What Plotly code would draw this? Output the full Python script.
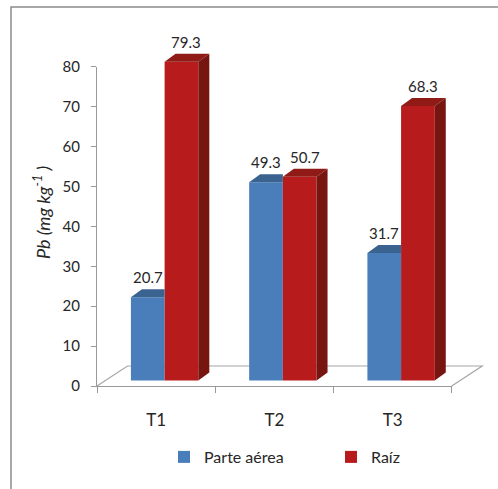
import plotly.graph_objects as go

# ---- data ----
categories = ["T1", "T2", "T3"]
parte_aerea = [20.7, 49.3, 31.7]
raiz = [79.3, 50.7, 68.3]
series_names = ["Parte aérea", "Raíz"]
y_ticks = [0, 10, 20, 30, 40, 50, 60, 70, 80]

# ---- geometry (pixels) ----
W, H = 498, 489
PLOT_L, PLOT_R = 97, 498
PLOT_T, PLOT_B = 30, 386
AXIS_RIGHT = 451.7          # end of the category axis (front floor edge)
AXIS_TOP = 66.7             # pixel height of the top value tick
UNIT_X = (AXIS_RIGHT - PLOT_L) / len(categories)

BAR_PX = 4.02               # px per unit on the plane where the bars stand
BAR_BASE = 380.5            # pixel row of value 0 on that plane
BAR_SHIFT_X = 8.5           # bars stand a little deeper than the axis plane
BAR_W = 0.285               # bar width in category units
DEPTH_X, DEPTH_Y = 11, 8    # extrusion of each bar (px)
FLOOR_DX, FLOOR_DY = 30.5, 20

BLUE, BLUE_TOP = "#4A7EBB", "#3B6390"
RED, RED_TOP, RED_SIDE = "#B71B1B", "#8F1A16", "#771611"
TEXT = "#262626"
FONT = "Lato"


def px_x(px):
    return (px - PLOT_L) / (PLOT_R - PLOT_L)


def px_y(py):
    return (PLOT_B - py) / (PLOT_B - PLOT_T)


x2_range = [-0.5 - BAR_SHIFT_X / UNIT_X,
            -0.5 + (PLOT_R - PLOT_L - BAR_SHIFT_X) / UNIT_X]
y2_range = [-(PLOT_B - BAR_BASE) / BAR_PX, (BAR_BASE - PLOT_T) / BAR_PX]
ddx = DEPTH_X / UNIT_X
ddy = DEPTH_Y / BAR_PX
idx = list(range(len(categories)))

fig = go.Figure()

# invisible anchor so the category axis knows its categories
fig.add_trace(go.Scatter(x=categories, y=[0] * len(categories), xaxis="x", yaxis="y",
                         mode="markers", marker=dict(opacity=0), showlegend=False,
                         hoverinfo="skip"))

# front faces of the bars
fig.add_trace(go.Bar(x=idx, y=parte_aerea, name=series_names[0], width=BAR_W, offset=-BAR_W,
                     marker=dict(color=BLUE, line=dict(width=0)), xaxis="x2", yaxis="y2",
                     customdata=categories, hovertemplate="%{customdata}: %{y}<extra>" + series_names[0] + "</extra>"))
fig.add_trace(go.Bar(x=idx, y=raiz, name=series_names[1], width=BAR_W, offset=0,
                     marker=dict(color=RED, line=dict(width=0)), xaxis="x2", yaxis="y2",
                     customdata=categories, hovertemplate="%{customdata}: %{y}<extra>" + series_names[1] + "</extra>"))


def face(xs, ys, color):
    fig.add_trace(go.Scatter(x=xs + [xs[0]], y=ys + [ys[0]], fill="toself", fillcolor=color,
                             mode="lines", line=dict(width=0, color=color), xaxis="x2", yaxis="y2",
                             showlegend=False, hoverinfo="skip"))


# extruded top and side faces
for i, (hb, hr) in enumerate(zip(parte_aerea, raiz)):
    x0, x1, x2 = i - BAR_W, i, i + BAR_W
    face([x0, x1, x1, x0 + ddx], [hb, hb, hb + ddy, hb + ddy], BLUE_TOP)
    face([x1, x2, x2 + ddx, x1 + ddx], [hr, hr, hr + ddy, hr + ddy], RED_TOP)
    face([x2, x2 + ddx, x2 + ddx, x2], [0, ddy, hr + ddy, hr], RED_SIDE)

# value labels
annotations = []
for i, (hb, hr) in enumerate(zip(parte_aerea, raiz)):
    for val, xc, xs in ((hb, i - BAR_W / 2, 0), (hr, i + BAR_W / 2, 5)):
        annotations.append(dict(x=xc, y=val, xref="x2", yref="y2", text=f"{val:.1f}",
                                showarrow=False, yshift=20, xshift=xs, yanchor="middle",
                                font=dict(family=FONT, size=15, color=TEXT)))

# axis title
annotations.append(dict(x=px_x(42), y=px_y(213), xref="paper", yref="paper",
                        xanchor="center", yanchor="middle",
                        text="<i>Pb (mg kg<sup>-1</sup> )</i>", textangle=-90, showarrow=False,
                        font=dict(family=FONT, size=18, color=TEXT)))

# floor outline and chart border
floor_path = "M {} {} L {} {} L {} {} L {} {}".format(
    px_x(PLOT_L), px_y(PLOT_B),
    px_x(PLOT_L + FLOOR_DX), px_y(PLOT_B - FLOOR_DY),
    px_x(AXIS_RIGHT + FLOOR_DX), px_y(PLOT_B - FLOOR_DY),
    px_x(AXIS_RIGHT), px_y(PLOT_B))
shapes = [
    dict(type="path", path=floor_path, xref="paper", yref="paper", layer="below",
         line=dict(color="#A6A6A6", width=1.2)),
    dict(type="rect", xref="paper", yref="paper", x0=px_x(11), x1=px_x(520), y0=px_y(7), y1=px_y(520),
         line=dict(color="#8C8C8C", width=1.5), layer="below"),
]

fig.update_layout(
    width=W, height=H,
    margin=dict(l=PLOT_L, r=W - PLOT_R, t=PLOT_T, b=H - PLOT_B, autoexpand=False),
    paper_bgcolor="white", plot_bgcolor="rgba(0,0,0,0)",
    font=dict(family=FONT, color=TEXT),
    xaxis=dict(type="category", categoryorder="array", categoryarray=categories,
               domain=[0, px_x(AXIS_RIGHT)], range=[-0.5, len(categories) - 0.5],
               anchor="y", tickson="boundaries", ticks="outside", ticklen=6, tickcolor="#999999",
               showline=True, linecolor="#999999", linewidth=1.2, showgrid=False, zeroline=False,
               tickfont=dict(family=FONT, size=17, color=TEXT), ticklabelstandoff=18,
               fixedrange=True),
    yaxis=dict(domain=[0, px_y(AXIS_TOP)], range=[0, 80], anchor="x",
               tickvals=y_ticks, ticks="outside", ticklen=5, tickcolor="#999999",
               showline=True, linecolor="#999999", linewidth=1.2, showgrid=False, zeroline=False,
               tickfont=dict(family=FONT, size=15, color=TEXT), ticklabelstandoff=8,
               fixedrange=True),
    xaxis2=dict(domain=[0, 1], range=x2_range, anchor="y2", visible=False, fixedrange=True),
    yaxis2=dict(domain=[0, 1], range=y2_range, anchor="x2", visible=False, fixedrange=True),
    showlegend=True,
    legend=dict(orientation="h", x=px_x(164), y=px_y(457), xanchor="left", yanchor="middle",
                entrywidth=122, entrywidthmode="pixels",
                font=dict(family=FONT, size=16, color=TEXT), bgcolor="rgba(0,0,0,0)"),
    annotations=annotations,
    shapes=shapes,
)

fig.write_html("out.html")
